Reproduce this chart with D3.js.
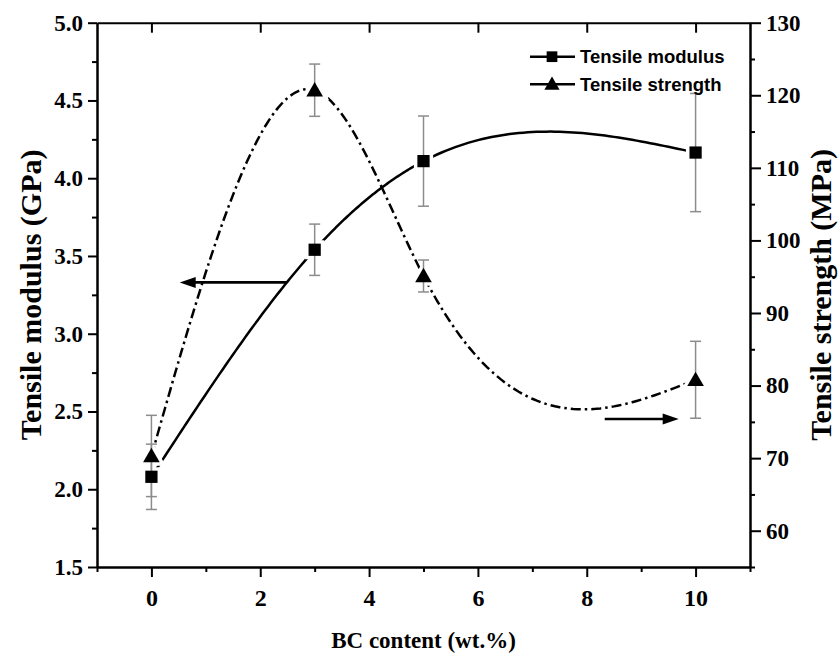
<!DOCTYPE html>
<html><head><meta charset="utf-8">
<script src="https://cdn.jsdelivr.net/npm/d3@7"></script>
<style>body{margin:0;background:#fff}</style>
</head><body><svg id="c" width="840" height="664"></svg>
<script>
// ---- data ----
const bcContent = [0, 3, 5, 10];
const modulus = [2.08, 3.54, 4.11, 4.165];
const modulusErr = [0.21, 0.165, 0.29, 0.38];
const strength = [70.3, 120.7, 95.1, 80.8];
const strengthErr = [5.6, 3.6, 2.2, 5.3];
const xTicks = [0, 2, 4, 6, 8, 10];
const xMinorTicks = [-1, 1, 3, 5, 7, 9, 11];
const yLeftTicks = [1.5, 2.0, 2.5, 3.0, 3.5, 4.0, 4.5, 5.0];
const yLeftMinor = [1.75, 2.25, 2.75, 3.25, 3.75, 4.25, 4.75];
const yRightTicks = [60, 70, 80, 90, 100, 110, 120, 130];
const yRightMinor = [55, 65, 75, 85, 95, 105, 115, 125];
const legendLabels = ["Tensile modulus", "Tensile strength"];
const xTitle = "BC content (wt.%)";
const yLeftTitle = "Tensile modulus (GPa)";
const yRightTitle = "Tensile strength (MPa)";

const svg = d3.select("#c");
const L = 97, R = 750, T = 22.7, B = 567;
const x = d3.scaleLinear([-1, 11], [L, R]);
const yL = d3.scaleLinear([1.5, 5], [B, T]);
const yR = d3.scaleLinear([55, 130], [B, T]);
const serif = "'Liberation Serif','Times New Roman',serif";
const sans = "'Liberation Sans',Arial,sans-serif";

// natural cubic spline in x
function spline(xs, ys, n) {
  const k = xs.length, h = [], M = new Array(k).fill(0);
  for (let i = 0; i < k - 1; i++) h.push(xs[i + 1] - xs[i]);
  const a = [], b = [], c = [], d = [];
  for (let i = 1; i < k - 1; i++) {
    a.push(h[i - 1]); b.push(2 * (h[i - 1] + h[i])); c.push(h[i]);
    d.push(6 * ((ys[i + 1] - ys[i]) / h[i] - (ys[i] - ys[i - 1]) / h[i - 1]));
  }
  const m = b.length;
  for (let i = 1; i < m; i++) { const w = a[i] / b[i - 1]; b[i] -= w * c[i - 1]; d[i] -= w * d[i - 1]; }
  const sol = new Array(m);
  for (let i = m - 1; i >= 0; i--) sol[i] = (d[i] - (i < m - 1 ? c[i] * sol[i + 1] : 0)) / b[i];
  for (let i = 0; i < m; i++) M[i + 1] = sol[i];
  const pts = [];
  for (let i = 0; i < k - 1; i++) {
    for (let j = 0; j <= n; j++) {
      if (i > 0 && j === 0) continue;
      const xv = xs[i] + h[i] * j / n;
      const A = xs[i + 1] - xv, Bv = xv - xs[i];
      const yv = M[i] * A * A * A / (6 * h[i]) + M[i + 1] * Bv * Bv * Bv / (6 * h[i]) +
        (ys[i] / h[i] - M[i] * h[i] / 6) * A + (ys[i + 1] / h[i] - M[i + 1] * h[i] / 6) * Bv;
      pts.push([xv, yv]);
    }
  }
  return pts;
}

// ---- axes ----
function styleAxis(g) {
  g.selectAll(".domain").attr("stroke", "#000").attr("stroke-width", 2);
  g.selectAll(".tick line").attr("stroke", "#000").attr("stroke-width", 2);
  g.selectAll(".tick text").attr("font-family", serif).attr("font-weight", "bold")
    .attr("font-size", 23).attr("fill", "#000");
}
const gxm = svg.append("g").attr("transform", `translate(0,${B})`)
  .call(d3.axisBottom(x).tickValues(xMinorTicks).tickSize(5).tickSizeOuter(0).tickFormat(""));
styleAxis(gxm);
const gx = svg.append("g").attr("transform", `translate(0,${B})`)
  .call(d3.axisBottom(x).tickValues(xTicks).tickSize(10).tickSizeOuter(0).tickPadding(12).tickFormat(d3.format("d")));
styleAxis(gx);
gx.selectAll(".tick text").attr("font-size", 24);
const gxt = svg.append("g").attr("transform", `translate(0,${T})`)
  .call(d3.axisBottom(x).tickValues(xTicks).tickSize(10).tickSizeOuter(0).tickFormat(""));
styleAxis(gxt);

const gylm = svg.append("g").attr("transform", `translate(${L},0)`)
  .call(d3.axisLeft(yL).tickValues(yLeftMinor).tickSize(5).tickSizeOuter(0).tickFormat(""));
styleAxis(gylm);
const gyl = svg.append("g").attr("transform", `translate(${L},0)`)
  .call(d3.axisLeft(yL).tickValues(yLeftTicks).tickSize(9).tickSizeOuter(0).tickPadding(5).tickFormat(d3.format(".1f")));
styleAxis(gyl);

const gyrm = svg.append("g").attr("transform", `translate(${R},0)`)
  .call(d3.axisRight(yR).tickValues(yRightMinor).tickSize(5).tickSizeOuter(0).tickFormat(""));
styleAxis(gyrm);
const gyr = svg.append("g").attr("transform", `translate(${R},0)`)
  .call(d3.axisRight(yR).tickValues(yRightTicks).tickSize(11).tickSizeOuter(0).tickPadding(5).tickFormat(d3.format("d")));
styleAxis(gyr);

// titles
svg.append("text").attr("x", (L + R) / 2).attr("y", 648).attr("text-anchor", "middle")
  .attr("font-family", serif).attr("font-weight", "bold").attr("font-size", 23).text(xTitle);
svg.append("text").attr("transform", `translate(41,${(T + B) / 2}) rotate(-90)`).attr("text-anchor", "middle")
  .attr("font-family", serif).attr("font-weight", "bold").attr("font-size", 30).text(yLeftTitle);
svg.append("text").attr("transform", `translate(831,${(T + B) / 2}) rotate(-90)`).attr("text-anchor", "middle")
  .attr("font-family", serif).attr("font-weight", "bold").attr("font-size", 30).text(yRightTitle);

// ---- curves ----
const line = d3.line();
const modPts = spline(bcContent, modulus, 60).map(p => [x(p[0]), yL(p[1])]);
const strPts = spline(bcContent, strength, 60).map(p => [x(p[0]), yR(p[1])]);
svg.append("path").attr("d", line(modPts)).attr("fill", "none").attr("stroke", "#000").attr("stroke-width", 2.5);
svg.append("path").attr("d", line(strPts)).attr("fill", "none").attr("stroke", "#000").attr("stroke-width", 2.5)
  .attr("stroke-dasharray", "10,4,2.5,4");

// arrows (annotations in data units)
function arrow(px1, px2, yv) {
  const dir = Math.sign(px2 - px1);
  svg.append("line").attr("x1", px1).attr("x2", px2 - dir * 12).attr("y1", yv).attr("y2", yv)
    .attr("stroke", "#000").attr("stroke-width", 2.6);
  svg.append("path").attr("d", `M${px2},${yv} L${px2 - dir * 16},${yv - 5.5} L${px2 - dir * 16},${yv + 5.5} Z`).attr("fill", "#000");
}
arrow(x(2.49), x(0.52), yL(3.33));
arrow(x(8.33), x(9.69), yR(75.4));

// halos
const sqPath = d3.symbol(d3.symbolSquare, 150)();
const triPath = d3.symbol(d3.symbolTriangle, 120)();
bcContent.forEach((v, i) => {
  svg.append("path").attr("d", sqPath).attr("transform", `translate(${x(v)},${yL(modulus[i])})`)
    .attr("fill", "#fff").attr("stroke", "#fff").attr("stroke-width", 7);
  svg.append("path").attr("d", triPath).attr("transform", `translate(${x(v)},${yR(strength[i]) + 1.5})`)
    .attr("fill", "#fff").attr("stroke", "#fff").attr("stroke-width", 7);
});

// error bars
function errBar(xv, y0, y1) {
  const g = svg.append("g").attr("stroke", "#8c8c8c").attr("stroke-width", 1.5);
  g.append("line").attr("x1", xv).attr("x2", xv).attr("y1", y0).attr("y2", y1);
  g.append("line").attr("x1", xv - 5.5).attr("x2", xv + 5.5).attr("y1", y0).attr("y2", y0);
  g.append("line").attr("x1", xv - 5.5).attr("x2", xv + 5.5).attr("y1", y1).attr("y2", y1);
}
bcContent.forEach((v, i) => {
  errBar(x(v), yL(modulus[i] - modulusErr[i]), yL(modulus[i] + modulusErr[i]));
  errBar(x(v), yR(strength[i] - strengthErr[i]), yR(strength[i] + strengthErr[i]));
});

// markers
bcContent.forEach((v, i) => {
  svg.append("path").attr("d", sqPath).attr("transform", `translate(${x(v)},${yL(modulus[i])})`).attr("fill", "#000");
  svg.append("path").attr("d", triPath).attr("transform", `translate(${x(v)},${yR(strength[i]) + 1.5})`).attr("fill", "#000");
});

// legend
const legY = [56.7, 84.3];
const legSym = [d3.symbol(d3.symbolSquare, 115)(), d3.symbol(d3.symbolTriangle, 100)()];
legendLabels.forEach((lab, i) => {
  svg.append("line").attr("x1", 530).attr("x2", 575).attr("y1", legY[i]).attr("y2", legY[i])
    .attr("stroke", "#000").attr("stroke-width", 2.5);
  svg.append("path").attr("d", legSym[i]).attr("transform", `translate(552,${legY[i] + (i ? 1 : 0)})`).attr("fill", "#000");
  svg.append("text").attr("x", 580).attr("y", legY[i]).attr("dy", "0.35em")
    .attr("font-family", sans).attr("font-weight", "bold").attr("font-size", 18.5).text(lab);
});
</script></body></html>
